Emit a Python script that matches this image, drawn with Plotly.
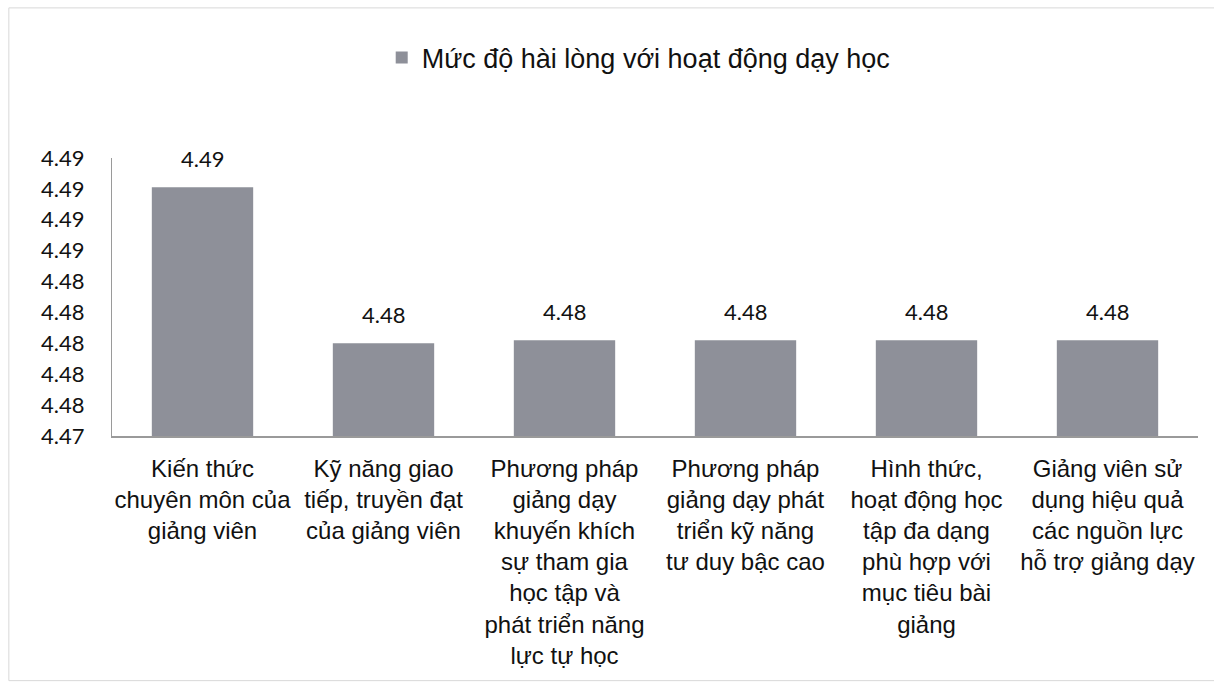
import plotly.graph_objects as go

categories = [
    "Kiến thức<br>chuyên môn của<br>giảng viên",
    "Kỹ năng giao<br>tiếp, truyền đạt<br>của giảng viên",
    "Phương pháp<br>giảng dạy<br>khuyến khích<br>sự tham gia<br>học tập và<br>phát triển năng<br>lực tự học",
    "Phương pháp<br>giảng dạy phát<br>triển kỹ năng<br>tư duy bậc cao",
    "Hình thức,<br>hoạt động học<br>tập đa dạng<br>phù hợp với<br>mục tiêu bài<br>giảng",
    "Giảng viên sử<br>dụng hiệu quả<br>các nguồn lực<br>hỗ trợ giảng dạy",
]
values = [4.4901, 4.4800, 4.4802, 4.4802, 4.4802, 4.4802]
series_name = "Mức độ hài lòng với hoạt động dạy học"
tick_vals = [4.474, 4.476, 4.478, 4.480, 4.482, 4.484, 4.486, 4.488, 4.490, 4.492]

fig = go.Figure()
fig.add_trace(go.Bar(
    x=categories, y=values, name=series_name,
    marker=dict(color="#8e9099", line=dict(width=0)),
    showlegend=True,
))

for c, v in zip(categories, values):
    fig.add_annotation(x=c, y=v, text=f"{v:.2f}", showarrow=False,
                       yanchor="bottom", yshift=13,
                       font=dict(family="Lato, Open Sans, sans-serif", size=22, color="#111111"))

fig.update_layout(
    width=1214, height=691,
    margin=dict(l=112, r=16, t=158, b=255),
    paper_bgcolor="white", plot_bgcolor="white",
    bargap=0.44,
    showlegend=True,
    legend=dict(orientation="h", x=0.485, xanchor="center", y=1.36, yanchor="middle",
                font=dict(family="Liberation Sans, Arial, sans-serif", size=27, color="#111111"),
                itemwidth=30),
    xaxis=dict(showline=True, linecolor="#9a9a9a", linewidth=1.5, ticks="",
               tickfont=dict(family="Liberation Sans, Arial, sans-serif", size=24, color="#111111"),
               tickangle=0, showgrid=False, ticklabelstandoff=10),
    yaxis=dict(range=[4.474, 4.492], tickvals=tick_vals, tickformat=".2f",
               showline=True, linecolor="#9a9a9a", linewidth=1, ticks="",
               showgrid=False, zeroline=False, ticklabelstandoff=22,
               tickfont=dict(family="Lato, Open Sans, sans-serif", size=22, color="#111111")),
)
fig.add_shape(type="rect", xref="paper", yref="paper",
              x0=-0.095, x1=1.02, y0=-0.88, y1=1.54,
              line=dict(color="#d8d8d8", width=1), layer="below")

fig.write_html("out.html")
